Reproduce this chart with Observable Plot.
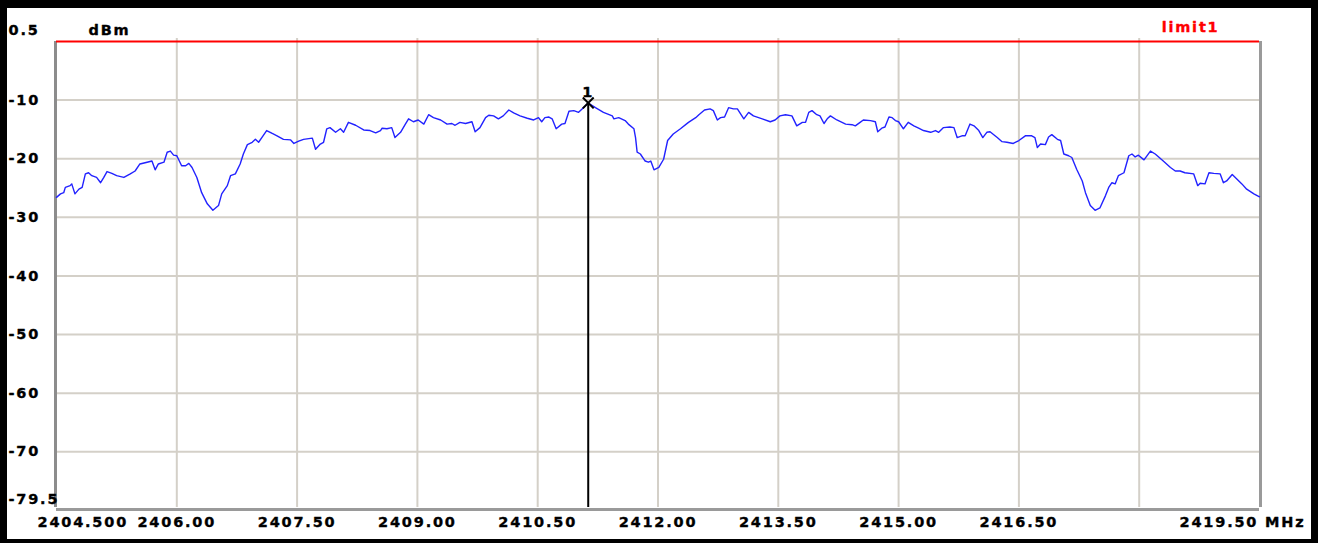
<!DOCTYPE html>
<html>
<head>
<meta charset="utf-8">
<script src="https://cdn.jsdelivr.net/npm/d3@7"></script>
<script src="https://cdn.jsdelivr.net/npm/@observablehq/plot@0.6"></script>
<style>
  html, body { margin: 0; padding: 0; background: #fff; }
  #wrap { position: relative; width: 1318px; height: 543px; overflow: hidden; background: #fff; }
  #frame { position: absolute; left: 0; top: 0; width: 1318px; height: 543px; box-sizing: border-box;
           border-style: solid; border-color: #000; border-width: 8px 7px 4px 7px; pointer-events: none; }
  svg { display: block; }
</style>
</head>
<body>
<div id="wrap"><div id="frame"></div></div>
<script>
// ---- data ----
const freqMHz = [
2404.50,2404.55,2404.59,2404.61,2404.67,2404.69,2404.73,2404.78,2404.82,2404.86,
2404.90,2404.94,2405.00,2405.05,2405.09,2405.13,2405.19,2405.25,2405.34,2405.42,
2405.48,2405.54,2405.63,2405.69,2405.73,2405.77,2405.84,2405.88,2405.92,2405.96,
2406.00,2406.06,2406.11,2406.15,2406.19,2406.25,2406.31,2406.38,2406.45,2406.52,
2406.56,2406.63,2406.67,2406.73,2406.79,2406.83,2406.88,2406.94,2406.98,2407.02,
2407.06,2407.12,2407.19,2407.25,2407.33,2407.42,2407.46,2407.52,
2407.58,2407.69,2407.73,2407.79,2407.83,2407.87,2407.91,2407.98,2408.04,2408.08,
2408.14,2408.23,2408.33,2408.41,2408.48,2408.54,2408.56,2408.62,2408.68,2408.72,
2408.79,2408.85,2408.89,2408.95,2409.01,2409.08,2409.14,2409.20,2409.29,2409.37,
2409.43,2409.47,2409.53,2409.60,2409.68,2409.72,2409.78,2409.85,2409.89,2409.95,
2410.01,2410.07,2410.14,2410.20,2410.28,2410.37,2410.45,2410.51,2410.55,2410.59,
2410.64,2410.68,2410.73,2410.80,2410.84,2410.89,2410.95,2411.01,2411.07,2411.13,
2411.22,2411.32,2411.43,2411.45,2411.51,2411.59,2411.63,2411.70,2411.72,2411.74,
2411.78,2411.84,2411.88,2411.91,2411.95,2412.01,2412.07,2412.12,2412.19,2412.28,
2412.38,2412.47,2412.51,2412.58,2412.65,2412.69,2412.74,2412.78,2412.83,2412.88,
2412.94,2412.99,2413.07,2413.13,2413.19,2413.30,2413.40,2413.46,2413.52,2413.59,
2413.67,
2413.73,2413.80,2413.84,2413.88,2413.92,2413.98,2414.02,2414.07,2414.11,2414.15,
2414.23,2414.34,2414.42,2414.46,2414.52,2414.56,2414.65,2414.71,2414.74,2414.79,
2414.83,2414.88,2414.92,2414.96,2415.00,2415.06,2415.12,2415.19,2415.25,2415.31,
2415.40,2415.46,2415.50,2415.56,2415.64,2415.69,2415.73,2415.79,2415.83,2415.89,
2415.94,2416.00,2416.05,2416.10,2416.14,2416.23,2416.29,
2416.35,2416.43,2416.50,2416.58,2416.66,2416.70,2416.73,2416.77,2416.83,2416.87,
2416.91,2416.98,2417.02,2417.06,2417.12,2417.16,2417.22,2417.29,2417.33,2417.39,
2417.45,2417.51,2417.58,2417.62,2417.66,2417.70,2417.74,2417.81,2417.87,2417.91,
2417.95,2417.99,2418.06,2418.14,2418.20,2418.30,2418.39,2418.45,2418.51,2418.57,
2418.68,2418.73,2418.76,2418.82,2418.87,2418.93,2419.01,2419.05,2419.09,2419.16,
2419.22,2419.28,2419.34,2419.43,2419.50
];
const levelDbm = [
-26.6,-26.0,-25.8,-24.9,-24.6,-24.3,-26.0,-25.2,-24.9,-22.6,
-22.4,-22.9,-23.2,-24.1,-23.2,-22.2,-22.5,-22.9,-23.2,-22.6,
-22.1,-20.9,-20.6,-20.4,-21.9,-20.9,-20.6,-18.9,-18.7,-19.4,
-19.5,-21.2,-21.2,-20.8,-21.5,-23.2,-25.8,-27.7,-28.8,-28.0,
-26.0,-24.6,-22.9,-22.6,-20.9,-19.2,-17.6,-17.2,-16.7,-17.2,
-16.4,-15.2,-15.7,-16.1,-16.7,-16.8,-17.4,-17.0,
-16.7,-16.5,-18.4,-17.5,-17.2,-14.9,-14.7,-15.5,-14.9,-15.5,
-13.8,-14.3,-15.1,-15.2,-15.6,-15.2,-14.8,-14.9,-14.7,-16.4,
-15.5,-14.1,-13.2,-13.7,-13.4,-14.1,-12.5,-13.0,-13.4,-14.1,
-14.0,-14.3,-13.8,-14.0,-13.7,-15.4,-14.7,-13.0,-12.6,-12.7,
-13.2,-12.7,-11.7,-12.2,-12.7,-13.1,-13.4,-13.0,-13.7,-13.0,
-12.9,-13.2,-14.9,-14.1,-14.0,-11.9,-11.8,-12.1,-11.3,-10.5,
-11.3,-12.1,-12.7,-13.2,-13.0,-13.5,-14.1,-14.9,-16.4,-18.9,
-19.2,-20.4,-20.6,-20.4,-21.9,-21.5,-20.1,-16.9,-15.8,-14.9,
-13.8,-13.0,-12.5,-11.7,-11.5,-11.8,-13.4,-13.0,-12.9,-11.3,
-11.5,-11.5,-13.2,-12.1,-12.7,-13.2,-13.7,-13.4,-12.7,-12.5,
-12.7,
-14.4,-13.8,-13.8,-12.1,-11.8,-12.5,-12.7,-14.0,-13.2,-12.7,
-13.4,-14.1,-14.2,-14.4,-13.8,-13.4,-13.5,-13.7,-15.4,-14.8,
-14.6,-12.9,-13.0,-13.5,-13.7,-14.9,-13.8,-14.4,-14.8,-15.2,
-15.5,-15.2,-15.5,-14.7,-14.6,-14.7,-16.4,-16.1,-16.1,-14.1,
-14.4,-15.2,-16.4,-15.5,-15.4,-16.4,-17.1,
-17.2,-17.4,-16.9,-16.1,-16.1,-16.4,-18.1,-17.5,-17.6,-16.3,
-15.9,-16.7,-16.9,-19.2,-19.5,-19.8,-21.8,-23.8,-25.8,-28.0,
-28.8,-28.4,-26.3,-24.9,-24.1,-24.3,-22.9,-22.4,-19.5,-19.2,
-19.7,-19.4,-20.2,-18.7,-19.2,-20.4,-21.5,-22.1,-22.1,-22.4,
-22.6,-24.6,-24.2,-24.3,-22.4,-22.5,-22.6,-24.1,-23.8,-22.7,
-23.5,-24.3,-25.2,-26.0,-26.5
];
const xStart = 2404.5, xStop = 2419.5;
const yTop = 0.5, yBottom = -79.5;
const xGridValues = [2406.0, 2407.5, 2409.0, 2410.5, 2412.0, 2413.5, 2415.0, 2416.5, 2418.0];
const xTickLabels = [2406.0, 2407.5, 2409.0, 2410.5, 2412.0, 2413.5, 2415.0, 2416.5];
const yGridValues = [-10, -20, -30, -40, -50, -60, -70];
const yUnit = "dBm";
const xUnit = "MHz";
const limitName = "limit1";
const limitLevel = 0;
const markerName = "1";
const markerFreq = 2411.13;
const markerLevel = -10.5;

// ---- build ----
const n = Math.min(freqMHz.length, levelDbm.length);
const trace = d3.range(n).map(i => ({f: freqMHz[i], L: levelDbm[i]}));
const marker = [{f: markerFreq, L: markerLevel, name: markerName}];

const font = "DejaVu Sans, Liberation Sans, sans-serif";
const txt = {fontSize: 14.5, fontWeight: "bold", fill: "#000", lineAnchor: "middle", stroke: "#000", strokeWidth: 0.35};

const chart = Plot.plot({
  width: 1318,
  height: 543,
  marginLeft: 56,
  marginRight: 59,
  marginTop: 38,
  marginBottom: 36,
  style: {fontFamily: font, letterSpacing: "1.8px", background: "transparent", overflow: "visible"},
  x: {domain: [xStart, xStop], axis: null},
  y: {domain: [yBottom, yTop], axis: null},
  marks: [
    Plot.gridX(xGridValues, {stroke: "#d4d0c8", strokeOpacity: 1, strokeWidth: 2}),
    Plot.gridY(yGridValues, {stroke: "#d4d0c8", strokeOpacity: 1, strokeWidth: 2}),
    Plot.ruleX([xStart], {stroke: "#8c8c8c", strokeWidth: 3, dx: -1, y1: limitLevel, y2: yBottom}),
    Plot.ruleX([xStop], {stroke: "#9a9a9a", strokeWidth: 3, dx: 1, y1: limitLevel, y2: yBottom}),
    Plot.ruleY([yBottom], {stroke: "#9a9a9a", strokeWidth: 3, dy: 2}),
    Plot.ruleY([limitLevel], {stroke: "#ff0000", strokeWidth: 2}),
    Plot.line(trace, {x: "f", y: "L", stroke: "#2222ff", strokeWidth: 1.4}),
    Plot.ruleX(marker, {x: "f", y1: "L", y2: yBottom, stroke: "#000", strokeWidth: 2}),
    Plot.dot(marker, {x: "f", y: "L", symbol: "times", r: 5, stroke: "#000", strokeWidth: 2}),
    Plot.text(marker, {x: "f", y: "L", text: "name", dy: -11, ...txt}),
    // y tick labels
    Plot.text(yGridValues, {y: d => d, text: d => String(d), frameAnchor: "left", textAnchor: "start", dx: -48, ...txt}),
    Plot.text([yTop, yBottom], {y: d => d, text: d => String(d), frameAnchor: "left", textAnchor: "start", dx: -48, dy: -8, ...txt}),
    Plot.text([yUnit], {frameAnchor: "top-left", textAnchor: "start", dx: 32, dy: -8, ...txt}),
    // limit label
    Plot.text([limitName], {x: xStop, y: limitLevel, text: d => d, textAnchor: "end", dx: -40, dy: -14, ...txt, fill: "#ff0000", stroke: "#ff0000"}),
    // x tick labels
    Plot.text(xTickLabels, {x: d => d, text: d => d.toFixed(2), frameAnchor: "bottom", dy: 15, ...txt}),
    Plot.text([xStart], {x: d => d, text: d => d.toFixed(3), frameAnchor: "bottom", textAnchor: "start", dx: -19, dy: 15, ...txt}),
    Plot.text([xStop], {x: d => d, text: d => d.toFixed(2) + " " + xUnit, frameAnchor: "bottom", textAnchor: "end", dx: 46, dy: 15, ...txt})
  ]
});
document.getElementById("wrap").insertBefore(chart, document.getElementById("frame"));
</script>
</body>
</html>
